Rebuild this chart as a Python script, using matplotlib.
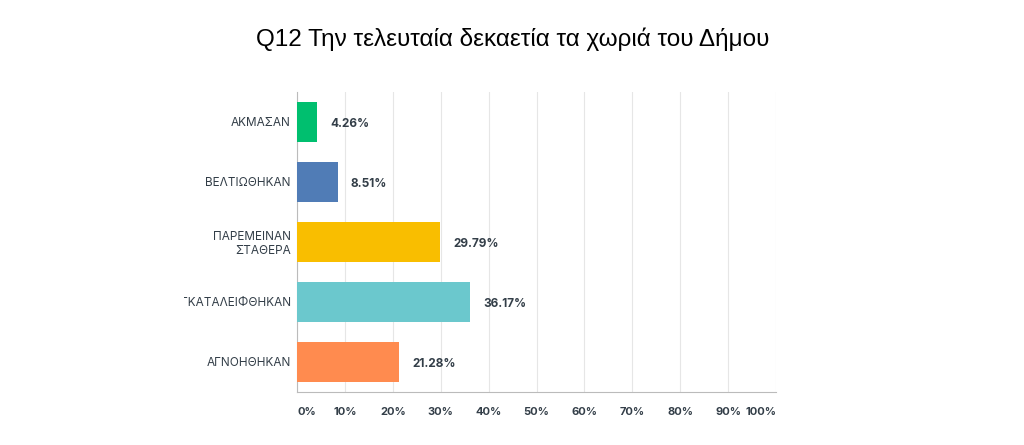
import matplotlib
matplotlib.use("Agg")
import matplotlib.pyplot as plt
from matplotlib.transforms import Bbox

categories = ["ΑΚΜΑΣΑΝ", "ΒΕΛΤΙΩΘΗΚΑΝ", "ΠΑΡΕΜΕΙΝΑΝ\nΣΤΑΘΕΡΑ", "ΕΓΚΑΤΑΛΕΙΦΘΗΚΑΝ", "ΑΓΝΟΗΘΗΚΑΝ"]
values = [4.26, 8.51, 29.79, 36.17, 21.28]
colors = ["#00BF6F", "#507CB6", "#F9BE00", "#6BC8CD", "#FF8B4F"]
xticks = [0, 10, 20, 30, 40, 50, 60, 70, 80, 90, 100]
title = "Q12 Την τελευταία δεκαετία τα χωριά του Δήμου"

W, H = 1024, 445
fig = plt.figure(figsize=(W / 100, H / 100), dpi=100)
ax = fig.add_axes([297 / W, (H - 392) / H, 479 / W, 300 / H])

y = list(range(len(categories)))
ax.barh(y, values, height=0.667, color=colors, zorder=3)
ax.set_ylim(len(categories) - 0.5, -0.5)
ax.set_xlim(0, 100)

for yi, v in zip(y, values):
    ax.annotate(f"{v:.2f}%", (v, yi), xytext=(9.5, -1.2), textcoords="offset points",
                va="center", ha="left", fontsize=8.5, fontweight="bold",
                color="#333E48", family="Inter")

ax.set_xticks(xticks)
ax.set_xticklabels([f"{t}%" for t in xticks], fontsize=8, fontweight="bold",
                   color="#333E48", family="Inter")
xl = ax.get_xticklabels()
xl[0].set_ha("left")
xl[-1].set_ha("right")
ax.set_yticks(y)
ax.set_yticklabels(categories, fontsize=8.5, color="#333E48", family="Inter")
ax.tick_params(axis="both", length=0)
ax.tick_params(axis="x", pad=11)
ax.tick_params(axis="y", pad=4.5)

ax.grid(axis="x", color="#E6E6E6", linewidth=0.8, zorder=0)
for s in ["top", "right"]:
    ax.spines[s].set_visible(False)
ax.spines["left"].set_color("#BBBBBB")
ax.spines["bottom"].set_color("#BBBBBB")

fig.suptitle(title, x=513 / W, y=1 - 39 / H, va="center", fontsize=17.5,
             family="Liberation Sans", color="#000000")

# clip the long label as in the reference
clip = Bbox.from_extents(184, 0, W, H)
for lbl in ax.get_yticklabels():
    if lbl.get_text() == "ΕΓΚΑΤΑΛΕΙΦΘΗΚΑΝ":
        lbl.set_clip_box(clip)
        lbl.set_clip_on(True)

fig.savefig("out.png", dpi=100, facecolor="white")
